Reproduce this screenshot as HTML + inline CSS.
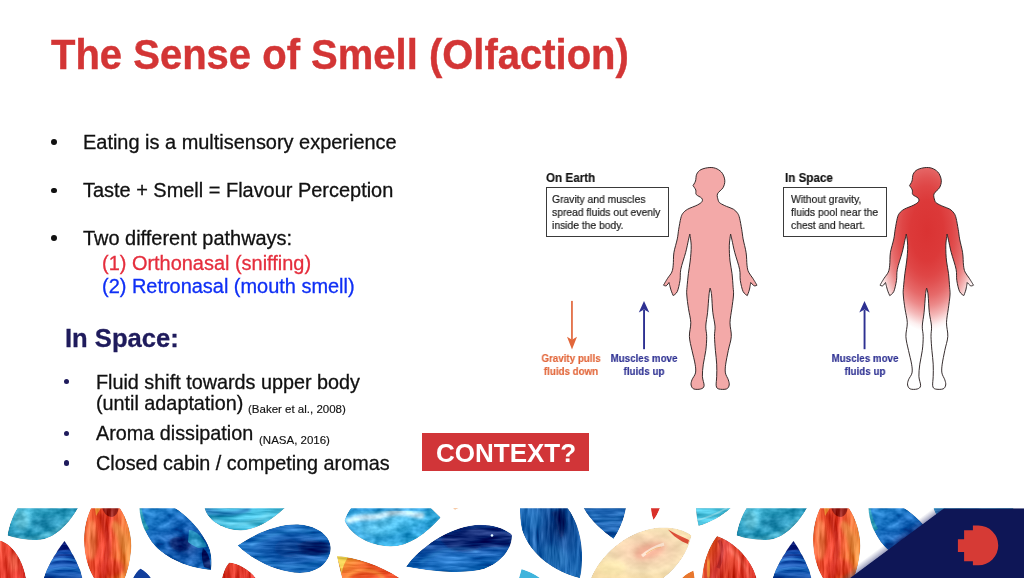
<!DOCTYPE html>
<html>
<head>
<meta charset="utf-8">
<title>The Sense of Smell (Olfaction)</title>
<style>
html,body{margin:0;padding:0;background:#fff;}
body{width:1024px;height:578px;position:relative;overflow:hidden;font-family:"Liberation Sans",sans-serif;color:#000;}
.t{position:absolute;white-space:nowrap;line-height:1;margin:0;will-change:transform;}
#title{left:51px;top:34.600px;font-size:40px;font-weight:bold;color:#d33535;transform:scaleY(1.040);transform-origin:0 84.650%;-webkit-text-stroke:0.400px;}
.b1{font-size:19.950px;color:#111;-webkit-text-stroke:0.300px;}
.lo{font-size:19.800px;}
.dot{position:absolute;border-radius:50%;}
.sub{font-size:11.500px;color:#111;-webkit-text-stroke:0.150px;}
#inspace{left:64.500px;top:325.500px;font-size:25.600px;font-weight:bold;color:#1f1b5c;-webkit-text-stroke:0.300px;}
#ctx{position:absolute;left:422px;top:433px;width:167px;height:38px;background:#d13538;}
#ctxt{left:436px;top:440px;font-size:26px;font-weight:bold;color:#fff;}
.fh{font-size:12.600px;font-weight:bold;color:#111;transform:scaleX(0.925);transform-origin:0 0;-webkit-text-stroke:0.150px;}
.fb{will-change:transform;font-size:10.800px;transform:scaleX(0.955);transform-origin:0 0;color:#1a1a1a;-webkit-text-stroke:0.200px;line-height:13.150px;white-space:nowrap;position:absolute;}
.box{position:absolute;border:1.300px solid #3a3a3a;box-sizing:border-box;}
.lab{will-change:transform;position:absolute;-webkit-text-stroke:0.150px;font-size:11px;font-weight:bold;line-height:12.800px;transform:scaleX(0.890);transform-origin:50% 0;text-align:center;white-space:nowrap;}
svg{position:absolute;left:0;top:0;}
</style>
</head>
<body>
<div id="title" class="t">The Sense of Smell (Olfaction)</div>

<div class="dot" style="left:51.100px;top:138.700px;width:5.900px;height:5.900px;background:#111"></div>
<div class="t b1" id="l1" style="left:83px;top:133px">Eating is a multisensory experience</div>
<div class="dot" style="left:51.100px;top:187.600px;width:5.900px;height:5.900px;background:#111"></div>
<div class="t b1" id="l2" style="left:83px;top:180.600px">Taste + Smell = Flavour Perception</div>
<div class="dot" style="left:51.100px;top:235.400px;width:5.900px;height:5.900px;background:#111"></div>
<div class="t b1" id="l3" style="left:83px;top:228.500px">Two different pathways:</div>
<div class="t b1" id="l4" style="left:102px;top:254.300px;color:#e52e3d">(1) Orthonasal (sniffing)</div>
<div class="t b1" id="l5" style="left:102px;top:276.500px;color:#0f2ff5">(2) Retronasal (mouth smell)</div>

<div id="inspace" class="t">In Space:</div>

<div class="dot" style="left:63.750px;top:378.650px;width:5.700px;height:5.700px;background:#1f1b5c"></div>
<div class="t b1 lo" id="l6" style="left:96.200px;top:372.600px">Fluid shift towards upper body</div>
<div class="t b1 lo" id="l7" style="left:96.200px;top:393.800px">(until adaptation)</div>
<div class="t sub" id="s1" style="left:247.800px;top:404.300px">(Baker et al., 2008)</div>
<div class="dot" style="left:63.750px;top:430.750px;width:5.700px;height:5.700px;background:#1f1b5c"></div>
<div class="t b1 lo" id="l8" style="left:96.200px;top:424.400px">Aroma dissipation</div>
<div class="t sub" id="s2" style="left:259.400px;top:434.500px">(NASA, 2016)</div>
<div class="dot" style="left:63.750px;top:460.150px;width:5.700px;height:5.700px;background:#1f1b5c"></div>
<div class="t b1 lo" id="l9" style="left:96.200px;top:454px">Closed cabin / competing aromas</div>

<div id="ctx"></div>
<div id="ctxt" class="t">CONTEXT?</div>

<!-- FIGURE -->
<div class="t fh" id="h1" style="left:546px;top:171.800px">On Earth</div>
<div class="box" style="left:545.700px;top:187px;width:123.700px;height:50px"></div>
<div class="fb" id="fb1" style="left:551.500px;top:192.500px">Gravity and muscles<br>spread fluids out evenly<br>inside the body.</div>
<div class="t fh" id="h2" style="left:785px;top:171.800px">In Space</div>
<div class="box" style="left:783px;top:187px;width:104.200px;height:50px"></div>
<div class="fb" id="fb2" style="left:790.800px;top:192.500px">Without gravity,<br>fluids pool near the<br>chest and heart.</div>

<div class="lab" id="la1" style="left:520.650px;width:100px;top:352px;color:#e2673b">Gravity pulls<br>fluids down</div>
<div class="lab" id="la2" style="left:594px;width:100px;top:352px;color:#2e3192">Muscles move<br>fluids up</div>
<div class="lab" id="la3" style="left:814.800px;width:100px;top:352px;color:#2e3192">Muscles move<br>fluids up</div>

<svg id="fig" width="1024" height="578" viewBox="0 0 1024 578">
<defs>
<radialGradient id="rg" gradientUnits="userSpaceOnUse" cx="710.500" cy="231" r="100" gradientTransform="translate(710.500 231) scale(0.550 1) translate(-710.500 -231)">
<stop offset="0" stop-color="#da3333"/><stop offset="0.300" stop-color="#dc3939"/><stop offset="0.450" stop-color="#df4646"/><stop offset="0.530" stop-color="#e15252"/><stop offset="0.650" stop-color="#e66a6a"/><stop offset="0.750" stop-color="#ec8a8a"/><stop offset="0.850" stop-color="#f4b8b8"/><stop offset="0.950" stop-color="#fdf0f0"/><stop offset="1" stop-color="#ffffff"/>
</radialGradient>
<path id="body" d="M709.9,167.5C712.6,167.4 714.9,167.9 717.0,168.9C719.1,169.9 721.1,171.4 722.4,173.4C723.7,175.4 724.7,178.4 724.8,180.8C724.9,183.2 724.2,185.5 723.0,187.7C721.8,189.9 718.3,191.8 717.5,193.9C716.7,196.0 717.8,198.6 718.2,200.2C718.7,201.8 718.8,202.2 720.2,203.2C721.6,204.2 724.3,205.4 726.5,206.4C728.7,207.4 731.5,208.0 733.4,209.2C735.2,210.3 736.6,211.8 737.6,213.3C738.6,214.8 738.9,215.5 739.6,218.2C740.3,220.9 741.1,225.9 741.7,229.3C742.3,232.8 742.4,235.0 743.1,238.9C743.8,242.8 745.5,248.3 746.1,252.7C746.8,257.1 746.6,262.0 747.0,265.2C747.4,268.4 747.6,269.9 748.6,272.1C749.6,274.3 751.4,276.1 752.8,278.3C754.2,280.5 757.0,285.2 757.0,285.2C757.0,285.2 755.2,286.2 754.2,285.8C753.2,285.4 750.7,282.5 750.7,282.5C750.7,282.5 749.9,287.8 749.3,290.0C748.7,292.2 747.3,295.6 747.3,295.6C747.3,295.6 744.3,294.0 743.1,291.5C741.9,289.0 740.9,284.1 740.3,280.4C739.7,276.7 740.5,273.9 739.6,269.3C738.7,264.7 736.1,257.6 734.8,252.7C733.5,247.8 732.7,243.3 732.0,240.2C731.3,237.1 730.6,234.0 730.6,234.0C730.6,234.0 729.4,241.3 729.3,245.8C729.2,250.3 729.5,256.4 730.0,261.0C730.5,265.6 731.5,269.1 732.0,273.5C732.5,277.9 732.9,283.7 733.1,287.3C733.4,290.9 733.7,291.4 733.5,295.0C733.3,298.6 732.4,304.2 731.8,308.8C731.2,313.4 730.1,318.1 730.0,322.7C729.9,327.3 731.6,331.9 731.3,336.5C731.0,341.1 729.2,345.8 728.3,350.4C727.4,355.0 726.2,360.4 725.7,364.2C725.2,367.9 725.0,370.3 725.4,372.9C725.8,375.5 727.7,377.8 728.3,379.8C728.9,381.8 729.5,383.5 729.2,385.0C728.9,386.5 728.3,388.2 726.6,388.9C724.9,389.6 720.5,389.5 718.8,389.0C717.1,388.5 716.6,387.9 716.2,385.8C715.9,383.7 716.6,379.9 716.7,376.3C716.8,372.7 716.9,368.5 716.7,364.2C716.5,359.9 715.8,355.0 715.4,350.4C715.0,345.8 714.6,340.6 714.5,336.5C714.4,332.4 715.3,330.1 715.0,326.1C714.7,322.1 713.4,317.5 712.8,312.3C712.2,307.1 712.0,299.1 711.6,295.0C711.2,290.9 710.1,288.0 710.1,288.0C710.1,288.0 709.4,290.9 709.0,295.0C708.6,299.1 708.1,307.1 707.6,312.3C707.1,317.5 705.9,322.1 705.8,326.1C705.6,330.1 706.7,332.4 706.7,336.5C706.7,340.6 706.4,345.8 705.8,350.4C705.2,355.0 703.9,359.9 703.3,364.2C702.7,368.5 702.3,372.7 702.4,376.3C702.5,379.9 704.4,383.7 704.1,385.8C703.8,387.9 702.4,388.5 700.7,389.0C699.0,389.5 695.3,389.6 693.7,388.9C692.1,388.2 691.4,386.5 691.1,385.0C690.8,383.5 691.3,381.8 692.0,379.8C692.7,377.8 695.0,375.5 695.5,372.9C696.0,370.3 695.7,367.9 695.1,364.2C694.5,360.4 693.0,355.0 692.0,350.4C691.0,345.8 689.6,341.1 689.4,336.5C689.2,331.9 690.9,327.3 690.8,322.7C690.6,318.1 689.2,313.4 688.5,308.8C687.8,304.2 687.0,298.6 686.8,295.0C686.5,291.4 686.7,290.9 687.0,287.3C687.3,283.7 687.9,277.9 688.4,273.5C688.9,269.1 689.7,265.6 690.2,261.0C690.7,256.4 691.3,250.3 691.2,245.8C691.1,241.3 689.8,234.0 689.8,234.0C689.8,234.0 689.1,237.1 688.4,240.2C687.7,243.3 686.9,247.8 685.6,252.7C684.3,257.6 681.7,264.7 680.8,269.3C679.9,273.9 680.6,276.7 680.0,280.4C679.4,284.1 678.4,289.0 677.3,291.5C676.2,294.0 673.2,295.6 673.2,295.6C673.2,295.6 671.7,292.3 671.0,290.1C670.3,287.9 669.0,282.5 669.0,282.5C669.0,282.5 667.1,285.4 666.2,285.8C665.3,286.2 663.5,285.2 663.5,285.2C663.5,285.2 666.2,280.5 667.6,278.3C669.0,276.1 670.9,274.3 671.8,272.1C672.7,269.9 672.9,268.4 673.2,265.2C673.6,262.0 673.2,257.1 673.9,252.7C674.6,248.3 676.5,242.8 677.3,238.9C678.1,235.0 678.1,232.8 678.7,229.3C679.3,225.9 680.1,220.9 680.8,218.2C681.5,215.5 681.8,214.8 682.9,213.3C684.0,211.8 685.3,210.6 687.7,209.2C690.1,207.8 695.0,206.3 697.4,205.0C699.8,203.7 701.3,202.8 702.0,201.6C702.7,200.4 702.6,199.3 701.6,198.1C700.6,196.9 697.3,195.9 696.3,194.6C695.3,193.2 696.3,191.5 695.8,190.0C695.2,188.5 693.0,185.6 693.0,185.6C693.0,185.6 694.9,182.9 695.5,181.0C696.1,179.1 695.8,176.1 696.7,174.2C697.6,172.3 698.8,170.7 701.0,169.6C703.2,168.5 707.2,167.6 709.9,167.5Z"/>
</defs>
<use href="#body" fill="#f3a9a8" stroke="#2b2223" stroke-width="0.950" stroke-linejoin="round"/>
<use href="#body" transform="translate(216.500,0)" fill="url(#rg)" stroke="#2b2223" stroke-width="0.950" stroke-linejoin="round"/>
<!-- arrows -->
<g fill="#e2673b"><rect x="571.100" y="300.900" width="1.700" height="39"/><path d="M567,336.800 L572,339.800 L577,336.800 L572,349.600 Z"/></g>
<g fill="#2e3192"><rect x="643.100" y="310" width="1.900" height="39.200"/><path d="M638.800,312.600 L644,309.500 L649.300,312.600 L644,301 Z"/></g>
<g fill="#2e3192"><rect x="863.600" y="310" width="1.900" height="39.200"/><path d="M859.300,312.600 L864.500,309.500 L869.800,312.600 L864.500,301 Z"/></g>
</svg>

<svg id="band" width="1024" height="578" viewBox="0 0 1024 578">
<defs>
<clipPath id="bc"><rect x="0" y="508.300" width="1024" height="70"/></clipPath>
<clipPath id="cA"><path d="M17.5,508 L78,508 C70,522 55,540 37,540 C25,540 15,538 7.5,535.5 C9,525 13,515 17.5,508 Z"/></clipPath>
<clipPath id="cC"><path d="M64.5,541 C72,552 80,566 82.5,578 L43.75,578 C47,566 56,552 64.5,541 Z"/></clipPath>
<clipPath id="cD"><path d="M91,508 L120,508 C128,520 133,538 131,552 C130,562 128,570 125,578 L93.7,578 C88,568 84,555 84,540 C84,528 87,516 91,508 Z"/></clipPath>
<clipPath id="cE"><path d="M139.5,508 L175,508 C190,517 205,535 210,550 C212,558 212,565 211,570 C195,569 170,562 155,546 C145,535 140,520 139.5,508 Z"/></clipPath>
<clipPath id="cF"><path d="M204.5,508 L285,508 C272,520 255,531 240,530.5 C225,530 208,522 204.5,508 Z"/></clipPath>
<clipPath id="cB"><path d="M0,540.5 C10,543 22,556 26,578 L0,578 Z"/></clipPath>
<clipPath id="cG"><path d="M237.5,545.5 C255,533 280,523 300,524.5 C318,526 331,536 330.7,549 C330,562 318,573 300,573 C278,573 252,560 237.5,545.5 Z"/></clipPath>
<clipPath id="cH"><path d="M222,578 C224,570 227,564 229.5,562.5 C238,563 250,570 255.7,578 Z"/></clipPath>
<clipPath id="cI"><path d="M351,508 L431,508 L440.7,517.500 C425,535 408,547 390,546.5 C370,546 350,535 344.5,520.5 C346,516 348,512 351,508 Z"/></clipPath>
<clipPath id="cJ"><path d="M337,556 C355,557 380,565 399.5,578 L342,578 C340,570 338,562 337,556 Z"/></clipPath>
<clipPath id="cK"><path d="M406,566.7 C420,547 448,528 475,525 C490,523.5 505,528 512,535 C512,548 503,562 484,569 C460,575 430,571 406,566.700 Z"/></clipPath>
<clipPath id="cL"><path d="M519,578 L521.5,569 C528,571 535,574 540,578 Z"/></clipPath>
<clipPath id="cM"><path d="M520,508 L567.7,508 C577,520 583,540 582,560 C582,568 581,574 580,578 L579,578 C555,572 530,555 522,530 C520,522 520,514 520,508 Z"/></clipPath>
<clipPath id="cN"><path d="M583.5,508 L626,508 C624,520 619,531 613.5,539 C602,531 590,520 583.5,508 Z"/></clipPath>
<clipPath id="cO"><path d="M651,508 L660,508 C658,513 656,517 653.5,520 C652,516 651,512 651,508 Z"/></clipPath>
<clipPath id="cP"><path d="M696,508 L731,508 C722,516 710,523 698.5,526 C697,520 696,514 696,508 Z"/></clipPath>
<clipPath id="cQ"><path d="M591,578 C600,556 625,532 655,528 C670,526.5 683,529 691.5,535.5 C688,552 678,567 663.5,578 Z"/></clipPath>
<clipPath id="cR"><path d="M682,578 C686,574 690,572 693.5,570.5 L694.7,578 Z"/></clipPath>
<clipPath id="cS"><path d="M717,536 C735,542 752,560 756.5,578 L702,578 C703,562 709,546 717,536 Z"/></clipPath>
<clipPath id="cX"><path d="M133,578 C135,574 138,570 140.500,568.500 C145,571 149,575 151,578 Z"/></clipPath>
<filter id="b1" x="-50%" y="-50%" width="200%" height="200%"><feGaussianBlur stdDeviation="0.6"/></filter>
<filter id="b2" x="-50%" y="-50%" width="200%" height="200%"><feGaussianBlur stdDeviation="1.4"/></filter>
<filter id="b3" x="-50%" y="-50%" width="200%" height="200%"><feGaussianBlur stdDeviation="2.2"/></filter>
<filter id="fH" x="0" y="0" width="1" height="1" color-interpolation-filters="sRGB"><feTurbulence type="fractalNoise" baseFrequency="0.030 0.220" numOctaves="3" seed="3" result="n"/><feColorMatrix in="n" type="matrix" values="1 0 0 0 0  1 0 0 0 0  1 0 0 0 0  0 0 0 0 1" result="g"/><feComposite in="SourceGraphic" in2="g" operator="arithmetic" k1="0" k2="1" k3="0.5" k4="-0.25" result="m"/><feComposite in="m" in2="SourceGraphic" operator="in"/></filter>
<filter id="fV" x="0" y="0" width="1" height="1" color-interpolation-filters="sRGB"><feTurbulence type="fractalNoise" baseFrequency="0.220 0.030" numOctaves="3" seed="5" result="n"/><feColorMatrix in="n" type="matrix" values="1 0 0 0 0  1 0 0 0 0  1 0 0 0 0  0 0 0 0 1" result="g"/><feComposite in="SourceGraphic" in2="g" operator="arithmetic" k1="0" k2="1" k3="0.5" k4="-0.25" result="m"/><feComposite in="m" in2="SourceGraphic" operator="in"/></filter>
<filter id="fD" x="0" y="0" width="1" height="1" color-interpolation-filters="sRGB"><feTurbulence type="fractalNoise" baseFrequency="0.080 0.120" numOctaves="3" seed="8" result="n"/><feColorMatrix in="n" type="matrix" values="1 0 0 0 0  1 0 0 0 0  1 0 0 0 0  0 0 0 0 1" result="g"/><feComposite in="SourceGraphic" in2="g" operator="arithmetic" k1="0" k2="1" k3="0.5" k4="-0.25" result="m"/><feComposite in="m" in2="SourceGraphic" operator="in"/></filter>
<filter id="fL" x="0" y="0" width="1" height="1" color-interpolation-filters="sRGB"><feTurbulence type="fractalNoise" baseFrequency="0.060 0.100" numOctaves="3" seed="11" result="n"/><feColorMatrix in="n" type="matrix" values="1 0 0 0 0  1 0 0 0 0  1 0 0 0 0  0 0 0 0 1" result="g"/><feComposite in="SourceGraphic" in2="g" operator="arithmetic" k1="0" k2="1" k3="0.16" k4="-0.08" result="m"/><feComposite in="m" in2="SourceGraphic" operator="in"/></filter>
<linearGradient id="gCy" x1="0" y1="0" x2="1" y2="1"><stop offset="0" stop-color="#44b6d4"/><stop offset="0.500" stop-color="#2492b6"/><stop offset="1" stop-color="#30a6c8"/></linearGradient>
<linearGradient id="gCy2" x1="0" y1="0" x2="1" y2="0.600"><stop offset="0" stop-color="#2f9edc"/><stop offset="0.450" stop-color="#55bce6"/><stop offset="0.700" stop-color="#3cb0e2"/><stop offset="1" stop-color="#2ea6dc"/></linearGradient>
<linearGradient id="gCy3" x1="0" y1="0" x2="1" y2="0.300"><stop offset="0" stop-color="#2a8fc0"/><stop offset="0.350" stop-color="#3ab4d8"/><stop offset="0.700" stop-color="#48bfe0"/><stop offset="1" stop-color="#56c6e4"/></linearGradient>
<linearGradient id="gDb" x1="0" y1="0" x2="0" y2="1"><stop offset="0" stop-color="#0b2c8a"/><stop offset="0.350" stop-color="#154fb0"/><stop offset="0.550" stop-color="#1146a2"/><stop offset="0.750" stop-color="#1b62bc"/><stop offset="1" stop-color="#134aa0"/></linearGradient>
<linearGradient id="gOr" x1="0" y1="0" x2="1" y2="0.200"><stop offset="0" stop-color="#ee6c36"/><stop offset="0.300" stop-color="#e84a2c"/><stop offset="0.550" stop-color="#e03a28"/><stop offset="0.800" stop-color="#ec6a34"/><stop offset="1" stop-color="#f08a3e"/></linearGradient>
<radialGradient id="gBl" cx="0.650" cy="0.620" r="0.700"><stop offset="0" stop-color="#0b3784"/><stop offset="0.300" stop-color="#1258ac"/><stop offset="0.700" stop-color="#186bbd"/><stop offset="1" stop-color="#227fca"/></radialGradient>
<radialGradient id="gBl2" cx="0.600" cy="0.500" r="0.650"><stop offset="0" stop-color="#0c3680"/><stop offset="0.350" stop-color="#1459ac"/><stop offset="0.750" stop-color="#196abc"/><stop offset="1" stop-color="#217bc8"/></radialGradient>
<linearGradient id="gRd" x1="0" y1="0" x2="1" y2="1"><stop offset="0" stop-color="#e8452f"/><stop offset="1" stop-color="#d92f27"/></linearGradient>
<linearGradient id="gOy" x1="0" y1="0" x2="1" y2="0.500"><stop offset="0" stop-color="#f6d85a"/><stop offset="0.250" stop-color="#f08a32"/><stop offset="0.600" stop-color="#ea5526"/><stop offset="1" stop-color="#e84a24"/></linearGradient>
<radialGradient id="gCr" cx="0.550" cy="0.450" r="0.600"><stop offset="0" stop-color="#f1b99c"/><stop offset="0.300" stop-color="#f5d2b0"/><stop offset="0.700" stop-color="#f8e3b8"/><stop offset="1" stop-color="#f6dca8"/></radialGradient>
<linearGradient id="gRl" x1="0" y1="0" x2="1" y2="0.300"><stop offset="0" stop-color="#f0a23a"/><stop offset="0.250" stop-color="#e8552e"/><stop offset="0.450" stop-color="#c9302a"/><stop offset="0.650" stop-color="#e64a34"/><stop offset="1" stop-color="#e03a2c"/></linearGradient>
<linearGradient id="gK" x1="0.300" y1="0" x2="0.450" y2="1"><stop offset="0" stop-color="#0b2c7c"/><stop offset="0.400" stop-color="#104294"/><stop offset="0.700" stop-color="#1a64b8"/><stop offset="1" stop-color="#2176c6"/></linearGradient>
<radialGradient id="gM" cx="0.620" cy="0.280" r="0.800"><stop offset="0" stop-color="#0a2f72"/><stop offset="0.250" stop-color="#124c96"/><stop offset="0.600" stop-color="#1a62ae"/><stop offset="1" stop-color="#2877c0"/></radialGradient>
<linearGradient id="gSh" gradientUnits="userSpaceOnUse" x1="897" y1="543.150" x2="893.100" y2="537.900"><stop offset="0" stop-color="#141a60" stop-opacity="0.420"/><stop offset="0.450" stop-color="#141a60" stop-opacity="0.220"/><stop offset="1" stop-color="#141a60" stop-opacity="0"/></linearGradient>
<g id="pat">
<g clip-path="url(#cA)" filter="url(#fD)"><path d="M17.5,508 L78,508 C70,522 55,540 37,540 C25,540 15,538 7.5,535.5 C9,525 13,515 17.5,508 Z" fill="url(#gCy)"/><ellipse cx="48" cy="524" rx="16" ry="7" fill="#2487ad" opacity="0.55" filter="url(#b3)"/><ellipse cx="22" cy="520" rx="7" ry="10" fill="#8fe0ee" opacity="0.5" filter="url(#b3)"/><path d="M10,537 C30,541 55,538 70,518" stroke="#7fd6ea" stroke-width="3" fill="none" opacity="0.6" filter="url(#b2)"/></g>
<g clip-path="url(#cC)" filter="url(#fH)"><path d="M64.5,541 C72,552 80,566 82.5,578 L43.75,578 C47,566 56,552 64.5,541 Z" fill="url(#gDb)"/><path d="M60,541 L69,541 L72,551 C66,549 60,550 56,552Z" fill="#0a1f78" opacity="0.900" filter="url(#b1)"/><path d="M50,562 C58,558 70,558 78,562" stroke="#3a86d8" stroke-width="2.500" fill="none" opacity="0.700" filter="url(#b1)"/><path d="M46,572 C58,567 72,567 82,572" stroke="#3a86d8" stroke-width="2.500" fill="none" opacity="0.650" filter="url(#b1)"/><path d="M52,557 C60,554 70,554 76,557" stroke="#0b2f86" stroke-width="2" fill="none" opacity="0.700" filter="url(#b1)"/></g>
<g clip-path="url(#cD)" filter="url(#fV)"><path d="M91,508 L120,508 C128,520 133,538 131,552 C130,562 128,570 125,578 L93.7,578 C88,568 84,555 84,540 C84,528 87,516 91,508 Z" fill="url(#gOr)"/><path d="M102,506 L119,506 C118.500,512 116,516 112,517 C107,517 103,513 102,506Z" fill="#8e1c16" opacity="0.950" filter="url(#b1)"/><path d="M101,514 C104,528 110,536 108.500,548 C107.500,558 105,568 104,578" stroke="#c42a1e" stroke-width="5" fill="none" opacity="0.800" filter="url(#b2)"/><path d="M113,520 C122,524 128,534 129,548 L124,556 C120,546 116,534 111,526Z" fill="#f5a458" opacity="0.600" filter="url(#b2)"/><ellipse cx="92" cy="540" rx="5" ry="20" fill="#f6935a" opacity="0.600" filter="url(#b2)"/><ellipse cx="112" cy="568" rx="12" ry="9" fill="#dc3426" opacity="0.700" filter="url(#b3)"/><path d="M95,508 L101,508 L96,516 Z" fill="#f6b040" opacity="0.700" filter="url(#b1)"/></g>
<g clip-path="url(#cE)" filter="url(#fD)"><path d="M139.5,508 L175,508 C190,517 205,535 210,550 C212,558 212,565 211,570 C195,569 170,562 155,546 C145,535 140,520 139.5,508 Z" fill="url(#gBl)"/><path d="M170,540 C176,535 186,536 190,542 C192,548 186,552 178,551 C172,550 168,545 170,540Z" fill="#0a2870" opacity="0.900" filter="url(#b2)"/><path d="M189,530 C196,530 204,538 207,547 L198,548 C194,546 190,544 188,542Z" fill="#2e9cc4" opacity="0.850" filter="url(#b1)"/><path d="M203,548 C208,552 211,560 210.500,569 L204,567 C202,560 201,554 203,548Z" fill="#0a2468" opacity="0.900" filter="url(#b1)"/><path d="M139,508 C140,516 143,524 147,530" stroke="#2fa0b4" stroke-width="5" fill="none" opacity="0.850" filter="url(#b1)"/><ellipse cx="160" cy="522" rx="12" ry="7" fill="#2f8ad8" opacity="0.600" transform="rotate(30 160 522)" filter="url(#b3)"/></g>
<g clip-path="url(#cF)" filter="url(#fH)"><path d="M204.5,508 L285,508 C272,520 255,531 240,530.5 C225,530 208,522 204.5,508 Z" fill="url(#gCy3)"/><path d="M206,510 C220,516 235,514 250,509" stroke="#1a62a8" stroke-width="4" fill="none" opacity="0.75" filter="url(#b2)"/><path d="M212,518 C228,528 250,526 270,514" stroke="#7fd8ec" stroke-width="3" fill="none" opacity="0.6" filter="url(#b2)"/></g>
</g>
</defs>
<g clip-path="url(#bc)">
<g clip-path="url(#cB)" filter="url(#fV)"><path d="M0,540.5 C10,543 22,556 26,578 L0,578 Z" fill="url(#gRd)"/><ellipse cx="14" cy="562" rx="5" ry="10" fill="#f07858" opacity="0.5" filter="url(#b3)"/></g>
<use href="#pat"/>
<use href="#pat" transform="translate(729,0)"/>
<g clip-path="url(#cX)"><path d="M133,578 C135,574 138,570 140.500,568.500 C145,571 149,575 151,578 Z" fill="#123f9c"/></g>
<g clip-path="url(#cG)" filter="url(#fH)"><path d="M237.5,545.5 C255,533 280,523 300,524.5 C318,526 331,536 330.7,549 C330,562 318,573 300,573 C278,573 252,560 237.5,545.5 Z" fill="url(#gBl2)"/><path d="M296,545 C305,539 320,540 330,545 L330,552 C320,557 306,556 299,552Z" fill="#0a2a72" opacity="0.900" filter="url(#b2)"/><ellipse cx="288" cy="548" rx="13" ry="9" fill="#0f4696" opacity="0.650" filter="url(#b3)"/><path d="M250,546 C265,534 290,528 312,532" stroke="#3d98dc" stroke-width="3" fill="none" opacity="0.600" filter="url(#b2)"/><path d="M258,556 C275,568 300,570 318,562" stroke="#3590d8" stroke-width="3" fill="none" opacity="0.550" filter="url(#b2)"/></g>
<g clip-path="url(#cH)" filter="url(#fV)"><path d="M222,578 C224,570 227,564 229.5,562.5 C238,563 250,570 255.7,578 Z" fill="url(#gRd)"/></g>
<g clip-path="url(#cI)" filter="url(#fD)"><path d="M351,508 L431,508 L440.7,517.500 C425,535 408,547 390,546.5 C370,546 350,535 344.5,520.5 C346,516 348,512 351,508 Z" fill="url(#gCy2)"/><path d="M347,522 C360,514 372,520 384,515 C396,510 410,514 424,516" stroke="#dff1fa" stroke-width="6" fill="none" opacity="0.800" filter="url(#b2)"/><path d="M352,510 C370,509 400,509 428,510" stroke="#2f9be0" stroke-width="4" fill="none" opacity="0.700" filter="url(#b2)"/><path d="M350,528 C365,542 395,546 428,524" stroke="#2a9ad8" stroke-width="6" fill="none" opacity="0.550" filter="url(#b3)"/></g>
<g clip-path="url(#cJ)" filter="url(#fH)"><path d="M337,556 C355,557 380,565 399.5,578 L342,578 C340,570 338,562 337,556 Z" fill="url(#gOy)"/><path d="M337,556 L348,557 C345,562 342,568 342,574Z" fill="#f8e060" opacity="0.900" filter="url(#b1)"/><path d="M346,578 C354,568 372,567 384,578" stroke="#f6c24a" stroke-width="2.500" fill="none" opacity="0.550" filter="url(#b2)"/></g>
<g clip-path="url(#cK)" filter="url(#fH)"><path d="M406,566.7 C420,547 448,528 475,525 C490,523.5 505,528 512,535 C512,548 503,562 484,569 C460,575 430,571 406,566.700 Z" fill="url(#gK)"/><path d="M440,540 C455,528 480,523 512,534 L511,546 C500,548 490,546 480,548 C470,554 455,552 448,548Z" fill="#08246c" opacity="0.850" filter="url(#b2)"/><ellipse cx="450" cy="560" rx="22" ry="7" fill="#2a7fd0" opacity="0.600" transform="rotate(-8 450 560)" filter="url(#b3)"/><path d="M420,563 C440,548 462,545 478,552" stroke="#3d98dc" stroke-width="2.500" fill="none" opacity="0.600" filter="url(#b2)"/><circle cx="492" cy="535.500" r="1.300" fill="#d8ecf8"/></g>
<g clip-path="url(#cL)"><path d="M519,578 L521.5,569 C528,571 535,574 540,578 Z" fill="#3fb4dc"/></g>
<g clip-path="url(#cM)" filter="url(#fV)"><path d="M520,508 L567.7,508 C577,520 583,540 582,560 C582,568 581,574 580,578 L579,578 C555,572 530,555 522,530 C520,522 520,514 520,508 Z" fill="url(#gM)"/><path d="M551,512 C556,520 558,530 561,540 C566,532 568,520 563,509Z" fill="#082868" opacity="0.850" filter="url(#b2)"/><ellipse cx="534" cy="520" rx="9" ry="10" fill="#2a7cc4" opacity="0.500" filter="url(#b3)"/><ellipse cx="556" cy="556" rx="14" ry="9" fill="#2b78bc" opacity="0.550" transform="rotate(35 556 556)" filter="url(#b3)"/><path d="M574,520 C580,535 582,555 580,575" stroke="#1a62b0" stroke-width="3" fill="none" opacity="0.600" filter="url(#b2)"/></g>
<g clip-path="url(#cN)" filter="url(#fH)"><path d="M583.5,508 L626,508 C624,520 619,531 613.5,539 C602,531 590,520 583.5,508 Z" fill="#1a60ae"/><path d="M590,512 C600,522 612,524 622,514" stroke="#2a78c2" stroke-width="4" fill="none" opacity="0.600" filter="url(#b2)"/></g>
<g clip-path="url(#cO)"><path d="M651,508 L660,508 C658,513 656,517 653.5,520 C652,516 651,512 651,508 Z" fill="#d9302a"/></g>
<g clip-path="url(#cP)" filter="url(#fH)"><path d="M696,508 L731,508 C722,516 710,523 698.5,526 C697,520 696,514 696,508 Z" fill="#4bc2de"/><path d="M697,520 C708,518 718,513 727,508" stroke="#9be0ee" stroke-width="2" fill="none" opacity="0.7" filter="url(#b1)"/></g>
<g clip-path="url(#cQ)" filter="url(#fL)"><path d="M591,578 C600,556 625,532 655,528 C670,526.5 683,529 691.5,535.5 C688,552 678,567 663.5,578 Z" fill="url(#gCr)"/><ellipse cx="650" cy="551" rx="16" ry="7" fill="#f0a890" opacity="0.700" transform="rotate(-20 650 551)" filter="url(#b3)"/><path d="M642,556 C650,549 658,546 664,544" stroke="#fdf3e4" stroke-width="3" fill="none" opacity="0.700" filter="url(#b1)"/><path d="M646,554 C651,550 656,548 661,547" stroke="#eeb070" stroke-width="1.200" fill="none" opacity="0.800" filter="url(#b1)"/><path d="M668,529.500 C674,533 682,537 689,540 L688,544 C680,541 673,536 668,529.500Z" fill="#d8452e" opacity="0.950"/><ellipse cx="612" cy="568" rx="14" ry="8" fill="#f8e6ac" opacity="0.700" filter="url(#b3)"/></g>
<g clip-path="url(#cR)"><path d="M682,578 C686,574 690,572 693.5,570.5 L694.7,578 Z" fill="#e8772e"/></g>
<g clip-path="url(#cS)" filter="url(#fV)"><path d="M717,536 C735,542 752,560 756.5,578 L702,578 C703,562 709,546 717,536 Z" fill="url(#gRl)"/><path d="M719,540 C724,548 722,560 718,568" stroke="#a82420" stroke-width="3.500" fill="none" opacity="0.8" filter="url(#b1)"/><path d="M708,560 C710,566 709,572 708,578" stroke="#f6c040" stroke-width="4" fill="none" opacity="0.7" filter="url(#b2)"/><path d="M728,548 C738,556 746,566 750,578" stroke="#f07a68" stroke-width="4" fill="none" opacity="0.5" filter="url(#b2)"/></g>
<path d="M453,508.300 L458.500,508.300 L455,509.600 Z" fill="#f0a060"/>
<path d="M944,508.300 L850,578 L837,578 L931,508.300 Z" fill="url(#gSh)"/>
<path d="M944,508.300 L1024,508.300 L1024,578 L850,578 Z" fill="#0e1656"/>
<path d="M972.900,525.600 L978.400,525.600 A19.850,19.850 0 0 1 978.400,565.300 L972.900,565.300 L972.900,561.200 L964.100,561.200 L964.100,552 L957.900,552 L957.900,539.200 L964.100,539.200 L964.100,530.200 L972.900,530.200 Z" fill="#d63a35"/>
</g>
</svg>
</body>
</html>
